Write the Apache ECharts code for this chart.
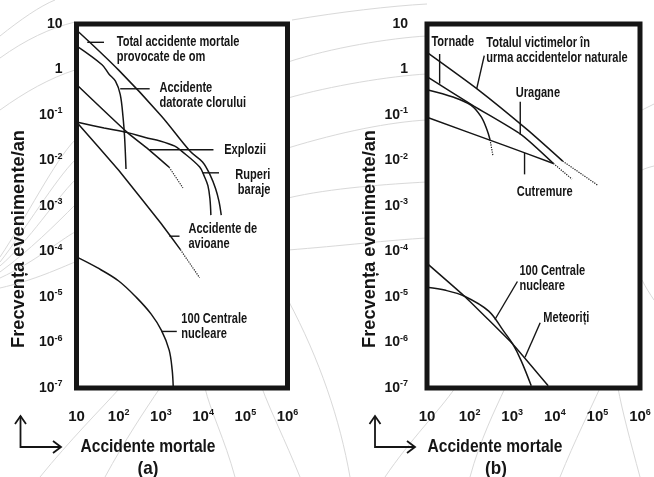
<!DOCTYPE html>
<html><head><meta charset="utf-8">
<script src="https://cdn.jsdelivr.net/npm/echarts@6/dist/echarts.min.js"></script>
<style>html,body{margin:0;padding:0;background:#fff}#c{width:654px;height:477px}</style>
</head><body><div id="c"></div>
<script>
// ---------- tick labels (decade exponents) ----------
const xTickExps = [1, 2, 3, 4, 5, 6];
const yTickExps = [1, 0, -1, -2, -3, -4, -5, -6, -7];

// ---------- panel (a): man-caused events  [fatalities, frequency/yr] ----------
const manTotal      = [[10,7.4],[100,0.97],[1000,0.098],[5000,0.0158],[9700,0.0093],[14650,0.00484],[19800,0.0024],[23800,0.00126],[26900,0.00063]];
const chlorine      = [[10,3.3],[40.3,1.27],[58.5,0.80],[83.8,0.553],[108.6,0.283],[127,0.0883],[138,0.0325],[149,0.0065]];
const explosions    = [[10,0.47],[162,0.041],[500,0.0178],[1570,0.0071]];
const explosionsExt = [[1570,0.0071],[3330,0.0025]];
const dams          = [[10,0.07],[45,0.052],[162,0.041],[426,0.0319],[955,0.0269],[2140,0.0207],[3050,0.0163],[8300,0.0072],[10800,0.0044],[13000,0.0028],[14500,0.00146],[15300,0.00063]];
const airCrashes    = [[10,0.07],[100,0.0061],[1000,0.000419],[2900,0.00011]];
const airCrashesExt = [[2900,0.00011],[8250,2.65e-5]];
const nuclearA      = [[10,7.6e-5],[31,4.4e-5],[100,2.25e-5],[262,9.8e-6],[589,4.2e-6],[1030,1.84e-6],[1570,6.8e-7],[1850,2.5e-7],[1960,1.05e-7]];

// ---------- panel (b): natural events ----------
const natTotal      = [[10,2.38],[147,0.38],[2290,0.047],[15300,0.0097]];
const natTotalExt   = [[15300,0.0097],[100000,0.0029]];
const hurricanes    = [[10,0.70],[126,0.157],[1650,0.0367],[9300,0.0086]];
const hurricanesExt = [[9300,0.0086],[25300,0.0039]];
const earthquakes   = [[10,0.089],[680,0.0212],[9300,0.0086]];
const tornadoes     = [[10,0.36],[42.7,0.245],[107,0.165],[186,0.092],[257,0.047],[302,0.0286]];
const tornadoesExt  = [[302,0.0286],[355,0.0124]];
const meteorites    = [[10,5.5e-5],[76,1.04e-5],[1035,9.2e-7],[7000,1.12e-7]];
const nuclearB      = [[10,1.63e-5],[27.5,1.4e-5],[76,1.04e-5],[281,4.9e-6],[624,1.8e-6],[1035,9.2e-7],[1620,4e-7],[2800,1.12e-7]];

// ---------- annotations (data coordinates) ----------
const leadersA = [
  [[18,3.96],[44.8,3.96]],
  [[108.6,0.377],[542,0.377]],
  [[542,0.0172],[17600,0.0172]],
  [[9660,0.00536],[23800,0.00536]],
  [[1590,2.17e-4],[2760,2.17e-4]],
  [[1030,1.75e-6],[2380,1.75e-6]]
];
const labelsA = [
  {t:'Total accidente mortale\nprovocate de om', x:89.8, y:2.79, a:'left'},
  {t:'Accidente\ndatorate clorului', x:921, y:0.265, a:'left'},
  {t:'Explozii', x:31600, y:0.0172, a:'left'},
  {t:'Ruperi\nbaraje', x:393000, y:0.00333, a:'right'},
  {t:'Accidente de\navioane', x:4490, y:2.1e-4, a:'left'},
  {t:'100 Centrale\nnucleare', x:3050, y:2.23e-6, a:'left'}
];
const leadersB = [
  [[19.8,2.19],[19.8,0.489]],
  [[147,0.38],[221,2.01]],
  [[1545,0.195],[1545,0.0367]],
  [[1950,0.0147],[1950,0.00496]],
  [[393,3.2e-6],[1325,2.19e-5]],
  [[2000,4.72e-7],[4540,2.72e-6]]
];
const labelsB = [
  {t:'Tornade', x:12.7, y:3.92, a:'left'},
  {t:'Totalul victimelor în\nurma accidentelor naturale', x:246, y:2.65, a:'left'},
  {t:'Uragane', x:1213, y:0.296, a:'left'},
  {t:'Cutremure', x:1280, y:0.00199, a:'left'},
  {t:'100 Centrale\nnucleare', x:1480, y:2.55e-5, a:'left'},
  {t:'Meteoriți', x:5370, y:3.49e-6, a:'left'}
];

const FONT = '"Liberation Sans", Arial, Helvetica, sans-serif';
const INK = '#151515';

function tickFmt(exps) {
  return function (v) {
    const e = Math.round(Math.log10(v));
    if (exps.indexOf(e) < 0) return '';
    if (e === 1) return '{b|10}';
    if (e === 0) return '{b|1}';
    return '{b|10}{s|' + e + '}';
  };
}
function rich(size) {
  return {
    b: {fontSize: size, fontWeight: 'bold', fontFamily: FONT, color: INK, lineHeight: size + 3},
    s: {fontSize: 9, fontWeight: 'bold', fontFamily: FONT, color: INK, verticalAlign: 'top', lineHeight: 9}
  };
}
function xAxisCfg(gi) {
  return {type: 'log', gridIndex: gi, logBase: 10, min: 10, max: 1e6, splitNumber: 5,
    axisLine: {show: false}, axisTick: {show: false},
    axisLabel: {margin: 20, formatter: tickFmt(xTickExps), rich: rich(15)},
    splitLine: {show: true, lineStyle: {type: 'dotted', color: '#555', width: 1}}};
}
function yAxisCfg(gi, margin) {
  return {type: 'log', gridIndex: gi, logBase: 10, min: 1e-7, max: 10, splitNumber: 8,
    axisLine: {show: false}, axisTick: {show: false},
    axisLabel: {margin: margin, formatter: tickFmt(yTickExps), rich: rich(14)},
    splitLine: {show: true, lineStyle: {type: 'dotted', color: '#555', width: 1}}};
}
function curve(gi, data, smooth, dotted) {
  return {type: 'line', xAxisIndex: gi, yAxisIndex: gi, data: data, symbol: 'none',
    smooth: smooth, silent: true, animation: false, z: 3,
    lineStyle: {color: INK, width: dotted ? 1.2 : 1.5, type: dotted ? 'dotted' : 'solid'}};
}

const chart = echarts.init(document.getElementById('c'), null, {renderer: 'canvas'});
chart.setOption({
  backgroundColor: '#fff',
  animation: false,
  grid: [
    {left: 76.5, top: 24, width: 211, height: 364, show: true, backgroundColor: '#fff', borderColor: INK, borderWidth: 5, z: 1},
    {left: 427, top: 24, width: 213, height: 364, show: true, backgroundColor: '#fff', borderColor: INK, borderWidth: 5, z: 1}
  ],
  xAxis: [xAxisCfg(0), xAxisCfg(1)],
  yAxis: [yAxisCfg(0, 14), yAxisCfg(1, 19)],
  series: [
    curve(0, manTotal, 0.35), curve(0, chlorine, 0.35), curve(0, explosions, 0.2),
    curve(0, explosionsExt, 0, true), curve(0, dams, 0.35), curve(0, airCrashes, 0.1),
    curve(0, airCrashesExt, 0, true), curve(0, nuclearA, 0.35),
    curve(1, natTotal, 0.2), curve(1, natTotalExt, 0, true), curve(1, hurricanes, 0.2),
    curve(1, hurricanesExt, 0, true), curve(1, earthquakes, 0.2), curve(1, tornadoes, 0.35),
    curve(1, tornadoesExt, 0, true), curve(1, meteorites, 0.1), curve(1, nuclearB, 0.35)
  ]
});

// ---------- annotations, axis titles, decorations ----------
function toPx(gi, p) { return chart.convertToPixel({xAxisIndex: gi, yAxisIndex: gi}, p); }
const g = [];
function textEl(x, y, t, size, align, sx, rot) {
  return {type: 'text', x: x, y: y, scaleX: sx || 1, rotation: rot || 0, z: 100, silent: true,
    style: {text: t, fontSize: size, fontWeight: 'bold', fontFamily: FONT, fill: INK,
      align: align || 'left', verticalAlign: 'middle', lineHeight: 15}};
}
[[0, leadersA, labelsA], [1, leadersB, labelsB]].forEach(function (set) {
  const gi = set[0];
  set[1].forEach(function (seg) {
    const a = toPx(gi, seg[0]), b = toPx(gi, seg[1]);
    g.push({type: 'line', z: 99, silent: true, shape: {x1: a[0], y1: a[1], x2: b[0], y2: b[1]},
      style: {stroke: INK, lineWidth: 1.4}});
  });
  set[2].forEach(function (l) {
    const p = toPx(gi, [l.x, l.y]);
    g.push(textEl(p[0], p[1], l.t, 14, l.a, 0.79));
  });
});
// axis titles
g.push(textEl(19, 239, 'Frecvența evenimente/an', 19, 'center', 0.96, Math.PI / 2));
g.push(textEl(370, 239, 'Frecvența evenimente/an', 19, 'center', 0.96, Math.PI / 2));
g.push(textEl(148, 447, 'Accidente mortale', 19, 'center', 0.82));
g.push(textEl(495, 447, 'Accidente mortale', 19, 'center', 0.82));
g.push(textEl(148, 469, '(a)', 19, 'center', 0.9));
g.push(textEl(496, 469, '(b)', 19, 'center', 0.9));
// corner arrows
function arrows(x0, x1) {
  const st = {stroke: INK, lineWidth: 1.8, fill: null};
  g.push({type: 'polyline', z: 100, silent: true, shape: {points: [[x0, 416], [x0, 447], [x1, 447]]}, style: st});
  g.push({type: 'polyline', z: 100, silent: true, shape: {points: [[x0 - 5.5, 424], [x0, 416], [x0 + 5.5, 424]]}, style: st});
  g.push({type: 'polyline', z: 100, silent: true, shape: {points: [[x1 - 8, 441], [x1, 447], [x1 - 8, 453]]}, style: st});
}
arrows(20.5, 61);
arrows(375, 415);
// faint decorative background arcs
const arcs = [
  [0,272,75,205,30,250,55,225],[0,266,75,180,30,240,55,200],[0,262,75,160,25,230,55,180],
  [0,257,75,140,25,220,55,160],[0,278,75,232,35,262,60,240],[0,288,75,262,35,280,60,268],
  [0,58,75,22,25,40,50,28],[0,36,55,0,20,20,40,6],[0,110,75,70,25,92,50,78],
  [288,62,427,36,330,48,390,38],[288,98,427,74,330,86,390,76],[288,148,427,120,340,132,390,122],
  [288,198,427,182,330,188,390,184],[288,250,427,238,340,246,390,240],[288,300,350,477,320,360,340,420],
  [292,20,427,4,340,12,390,6],[40,477,120,388,70,440,100,410],[105,477,160,388,125,440,145,410],
  [235,477,205,388,225,440,210,410],[300,477,262,388,285,440,270,410],[385,477,455,388,410,440,440,410],
  [470,477,505,388,480,440,495,410],[560,477,600,388,575,440,590,410],[640,477,618,388,630,440,622,410],
  [642,110,654,104,646,108,650,106],[642,170,654,166,646,168,650,167],[642,280,654,300,646,288,650,294]
];
arcs.forEach(function (c) {
  g.push({type: 'bezierCurve', z: -10, silent: true,
    shape: {x1: c[0], y1: c[1], x2: c[2], y2: c[3], cpx1: c[4], cpy1: c[5], cpx2: c[6], cpy2: c[7]},
    style: {stroke: '#d9d9d9', lineWidth: 1, fill: null}});
});
chart.setOption({graphic: {elements: g}});
</script></body></html>
